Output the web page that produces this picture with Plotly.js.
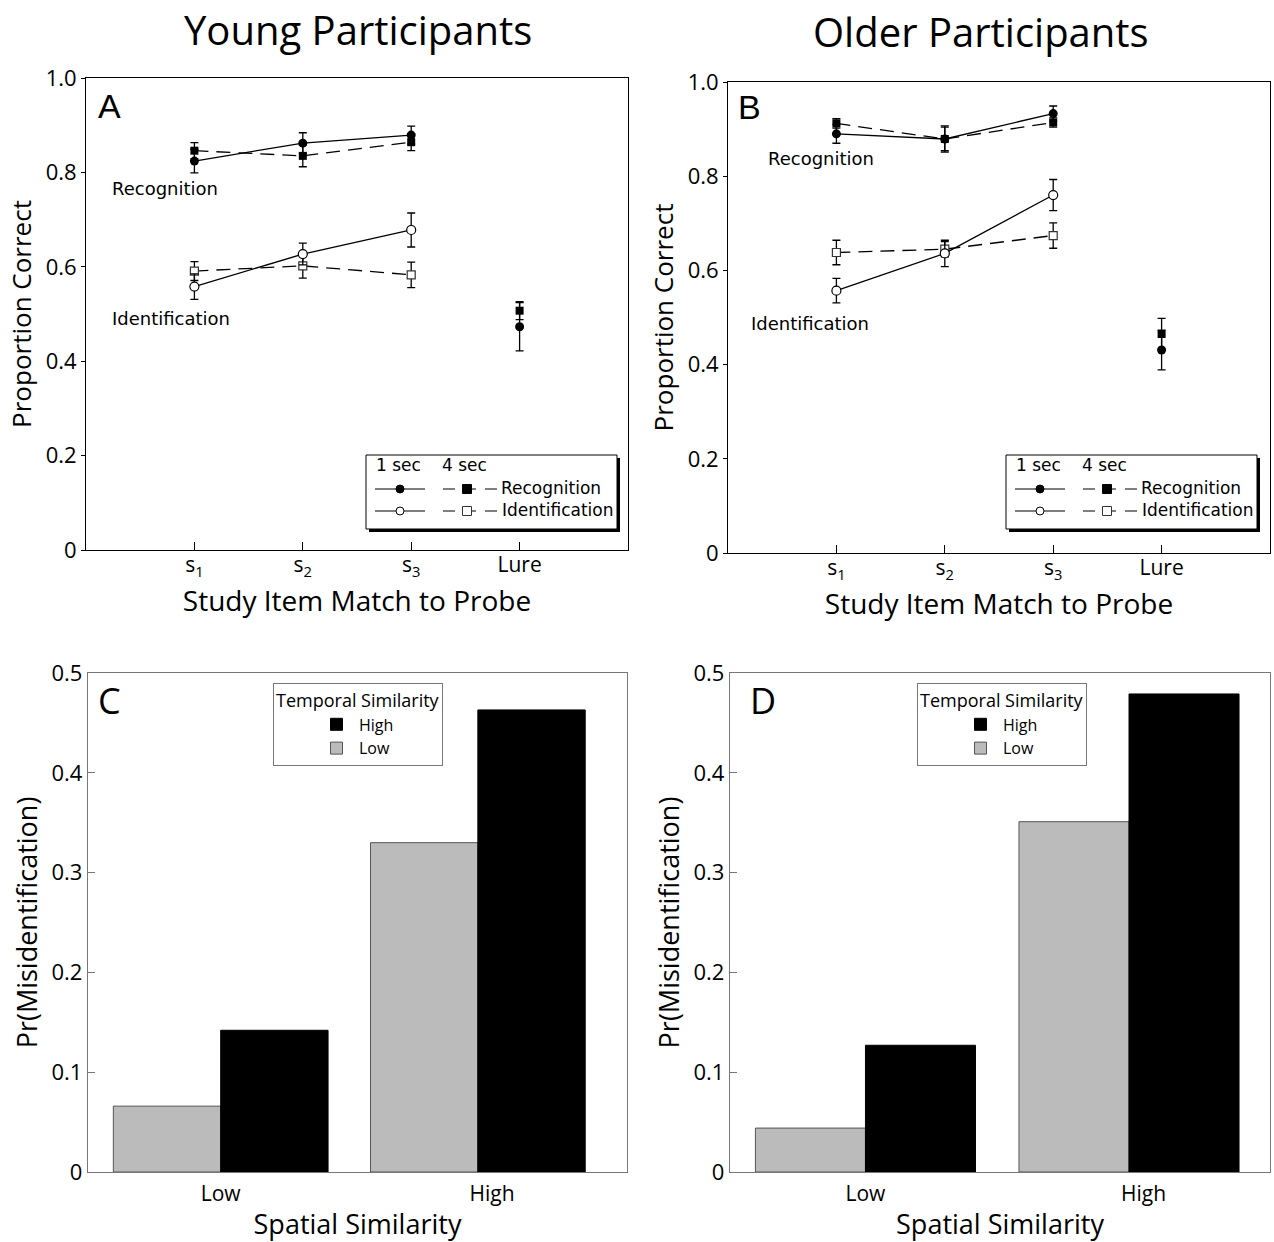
<!DOCTYPE html>
<html><head><meta charset="utf-8">
<script src="https://cdn.plot.ly/plotly-3.0.1.min.js"></script>
<style>body{margin:0;background:#fff}#chart{width:1274px;height:1242px}</style>
</head><body><div id="chart"></div>
<script>
// ---------- DATA ----------
const probeCategories = ['s1', 's2', 's3', 'Lure'];
const probeTickLabels = ['s<sub>1</sub>', 's<sub>2</sub>', 's<sub>3</sub>', 'Lure'];
const matchCategories = ['s1', 's2', 's3'];
const lureCategories = ['Lure'];
const yTickVals = [0, 0.2, 0.4, 0.6, 0.8, 1.0];
const yTickText = ['0', '0.2', '0.4', '0.6', '0.8', '1.0'];

// Young participants (panel A)
const youngRec1s = [0.824, 0.862, 0.879];
const youngRec1sErr = [0.025, 0.022, 0.019];
const youngRec4s = [0.846, 0.835, 0.864];
const youngRec4sErr = [0.017, 0.023, 0.018];
const youngId1s = [0.558, 0.627, 0.678];
const youngId1sErr = [0.027, 0.023, 0.036];
const youngId4s = [0.591, 0.602, 0.583];
const youngId4sErr = [0.020, 0.026, 0.027];
const youngLure1s = [0.473];
const youngLure1sErr = [0.051];
const youngLure4s = [0.507];
const youngLure4sErr = [0.019];

// Older participants (panel B)
const olderRec1s = [0.890, 0.879, 0.933];
const olderRec1sErr = [0.020, 0.025, 0.016];
const olderRec4s = [0.912, 0.879, 0.914];
const olderRec4sErr = [0.010, 0.028, 0.010];
const olderId1s = [0.557, 0.636, 0.760];
const olderId1sErr = [0.026, 0.028, 0.033];
const olderId4s = [0.638, 0.645, 0.674];
const olderId4sErr = [0.026, 0.016, 0.027];
const olderLure1s = [0.431];
const olderLure1sErr = [0.042];
const olderLure4s = [0.465];
const olderLure4sErr = [0.033];

// Misidentification (panels C, D)
const spatialCategories = ['Low', 'High'];
const barTickVals = [0, 0.1, 0.2, 0.3, 0.4, 0.5];
const barTickText = ['0', '0.1', '0.2', '0.3', '0.4', '0.5'];
const youngLowTemporal = [0.066, 0.330];
const youngHighTemporal = [0.142, 0.463];
const olderLowTemporal = [0.044, 0.351];
const olderHighTemporal = [0.127, 0.479];

// ---------- HELPERS ----------
const W = 1274, H = 1242;
const px = v => v / W;
const py = v => 1 - v / H;
const OPT = 'Open Sans, sans-serif';
const HEL = 'DejaVu Sans, sans-serif';
const DASH = '14px,8px';

function err(arr) {
  return {type: 'data', array: arr, visible: true, color: '#000', thickness: 1.3, width: 4};
}
function lineTraces(xa, ya, rec1, rec1e, rec4, rec4e, id1, id1e, id4, id4e, l1, l1e, l4, l4e) {
  const base = {xaxis: xa, yaxis: ya, type: 'scatter', showlegend: false, hoverinfo: 'y'};
  return [
    Object.assign({}, base, {x: matchCategories, y: id4, mode: 'lines+markers', error_y: err(id4e),
      line: {color: '#000', width: 1.3, dash: DASH},
      marker: {symbol: 'square', size: 8, color: '#fff', line: {color: '#333', width: 1.2}}}),
    Object.assign({}, base, {x: matchCategories, y: id1, mode: 'lines+markers', error_y: err(id1e),
      line: {color: '#000', width: 1.3},
      marker: {symbol: 'circle', size: 9, color: '#fff', line: {color: '#000', width: 1.2}}}),
    Object.assign({}, base, {x: matchCategories, y: rec4, mode: 'lines+markers', error_y: err(rec4e),
      line: {color: '#000', width: 1.3, dash: DASH},
      marker: {symbol: 'square', size: 8, color: '#000'}}),
    Object.assign({}, base, {x: matchCategories, y: rec1, mode: 'lines+markers', error_y: err(rec1e),
      line: {color: '#000', width: 1.3},
      marker: {symbol: 'circle', size: 9, color: '#000'}}),
    Object.assign({}, base, {x: lureCategories, y: l4, mode: 'markers', error_y: err(l4e),
      marker: {symbol: 'square', size: 8, color: '#000'}}),
    Object.assign({}, base, {x: lureCategories, y: l1, mode: 'markers', error_y: err(l1e),
      marker: {symbol: 'circle', size: 9, color: '#000'}})
  ];
}
function barTraces(xa, ya, low, high, legendId) {
  const xs = spatialCategories.map((c, i) => i);
  return [
    {type: 'bar', xaxis: xa, yaxis: ya, x: xs, y: low, name: 'Low', legend: legendId,
      marker: {color: '#bbbbbb', line: {color: '#555', width: 1}}, hovertext: spatialCategories},
    {type: 'bar', xaxis: xa, yaxis: ya, x: xs, y: high, name: 'High', legend: legendId,
      marker: {color: '#000000', line: {color: '#000', width: 1}}, hovertext: spatialCategories}
  ];
}

const data = [].concat(
  lineTraces('x', 'y', youngRec1s, youngRec1sErr, youngRec4s, youngRec4sErr, youngId1s, youngId1sErr,
             youngId4s, youngId4sErr, youngLure1s, youngLure1sErr, youngLure4s, youngLure4sErr),
  lineTraces('x2', 'y2', olderRec1s, olderRec1sErr, olderRec4s, olderRec4sErr, olderId1s, olderId1sErr,
             olderId4s, olderId4sErr, olderLure1s, olderLure1sErr, olderLure4s, olderLure4sErr),
  barTraces('x3', 'y3', youngLowTemporal, youngHighTemporal, 'legend'),
  barTraces('x4', 'y4', olderLowTemporal, olderHighTemporal, 'legend2')
);

// ---------- AXES ----------
function lineX(x0, x1) {
  return {domain: [px(x0), px(x1)], type: 'category', categoryorder: 'array', categoryarray: probeCategories,
    range: [-1, 4], tickmode: 'array', tickvals: probeCategories, ticktext: probeTickLabels,
    ticks: 'inside', ticklen: 8, tickcolor: '#000', showline: true, linecolor: '#000', linewidth: 1,
    mirror: true, showgrid: false, zeroline: false, fixedrange: true, ticklabelstandoff: -4,
    tickfont: {family: OPT, size: 21, color: '#000'},
    title: {text: 'Study Item Match to Probe', font: {family: OPT, size: 28, color: '#000'}, standoff: 4}};
}
function lineY(y0, y1, anchor) {
  return {domain: [py(y1), py(y0)], anchor: anchor, range: [0, 1], tickmode: 'array', tickvals: yTickVals,
    ticktext: yTickText, ticks: 'outside', ticklen: 4, tickcolor: '#000', showline: true, linecolor: '#000',
    linewidth: 1, mirror: true, showgrid: false, zeroline: false, fixedrange: true,
    tickfont: {family: OPT, size: 22, color: '#000'},
    title: {text: 'Proportion Correct', font: {family: OPT, size: 26, color: '#000'}, standoff: 6}};
}
function barX(x0, x1, range) {
  return {domain: [px(x0), px(x1)], type: 'linear', range: range, tickmode: 'array',
    tickvals: [0, 1.055], ticktext: spatialCategories, ticks: '', showline: true, linecolor: '#777',
    linewidth: 1.2, mirror: true, showgrid: false, zeroline: false, fixedrange: true, ticklabelstandoff: 3,
    tickfont: {family: OPT, size: 21, color: '#000'},
    title: {text: 'Spatial Similarity', font: {family: OPT, size: 27, color: '#000'}, standoff: 8}};
}
function barY(anchor) {
  return {domain: [py(1172), py(673)], anchor: anchor, range: [0, 0.5], tickmode: 'array', tickvals: barTickVals,
    ticktext: barTickText, ticks: 'inside', ticklen: 7, tickcolor: '#777', showline: true, linecolor: '#777',
    linewidth: 1.2, mirror: true, showgrid: false, zeroline: false, fixedrange: true,
    tickfont: {family: OPT, size: 22, color: '#000'},
    title: {text: 'Pr(Misidentification)', font: {family: OPT, size: 27, color: '#000'}, standoff: 6}};
}

// ---------- LINE-PANEL LEGENDS (decoration) ----------
const shapes = [];
const annotations = [];
function addLineLegend(ox) {
  const L = 366 + ox, R = 617 + ox, T = 455, B = 529;
  shapes.push({type: 'rect', xref: 'paper', yref: 'paper', x0: px(L + 3), x1: px(R + 3), y0: py(B + 3), y1: py(T + 3),
    fillcolor: '#000', line: {width: 0}, layer: 'above'});
  shapes.push({type: 'rect', xref: 'paper', yref: 'paper', x0: px(L), x1: px(R), y0: py(B), y1: py(T),
    fillcolor: '#fff', line: {color: '#000', width: 1}, layer: 'above'});
  const rows = [489, 511];
  rows.forEach((ry, i) => {
    shapes.push({type: 'line', xref: 'paper', yref: 'paper', x0: px(375 + ox), x1: px(425 + ox), y0: py(ry), y1: py(ry),
      line: {color: '#000', width: 1.2}, layer: 'above'});
    shapes.push({type: 'line', xref: 'paper', yref: 'paper', x0: px(443 + ox), x1: px(497 + ox), y0: py(ry), y1: py(ry),
      line: {color: '#000', width: 1.2, dash: '12px,9px'}, layer: 'above'});
    const filled = i === 0;
    shapes.push({type: 'circle', xref: 'paper', yref: 'paper', xsizemode: 'pixel', ysizemode: 'pixel',
      xanchor: px(400 + ox), yanchor: py(ry), x0: -4, x1: 4, y0: -4, y1: 4,
      fillcolor: filled ? '#000' : '#fff', line: {color: '#000', width: 1}, layer: 'above'});
    shapes.push({type: 'rect', xref: 'paper', yref: 'paper', xsizemode: 'pixel', ysizemode: 'pixel',
      xanchor: px(467 + ox), yanchor: py(ry), x0: -4.5, x1: 4.5, y0: -4.5, y1: 4.5,
      fillcolor: filled ? '#000' : '#fff', line: {color: filled ? '#000' : '#333', width: 1}, layer: 'above'});
  });
  const t = (text, x, y) => annotations.push({text: text, xref: 'paper', yref: 'paper', x: px(x), y: py(y),
    xanchor: 'left', yanchor: 'middle', showarrow: false, font: {family: HEL, size: 17, color: '#000'}});
  t('1 sec', 374 + ox, 465);
  t('4 sec', 440 + ox, 465);
  t('Recognition', 499 + ox, 488);
  t('Identification', 500 + ox, 510);
}
addLineLegend(0);
addLineLegend(640);

function label(text, x, y, size, family, anchor) {
  annotations.push({text: text, xref: 'paper', yref: 'paper', x: px(x), y: py(y), xanchor: anchor || 'center',
    yanchor: 'middle', showarrow: false, font: {family: family, size: size, color: '#000'}});
}
label('Young Participants', 358, 30, 40, OPT);
label('Older Participants', 981, 31, 40, OPT);
label('A', 96, 106, 34, 'Liberation Sans, Arial, sans-serif', 'left');
label('B', 736, 107, 34, 'Liberation Sans, Arial, sans-serif', 'left');
label('C', 96, 701, 36, OPT, 'left');
label('D', 748, 701, 36, OPT, 'left');
label('Recognition', 110, 188, 18, HEL, 'left');
label('Identification', 110, 318, 18, HEL, 'left');
label('Recognition', 766, 158, 18, HEL, 'left');
label('Identification', 749, 323, 18, HEL, 'left');

function barLegend(xLeft) {
  return {x: px(xLeft), y: py(683), xanchor: 'left', yanchor: 'top', bgcolor: '#fff', bordercolor: '#777',
    borderwidth: 1, traceorder: 'reversed', tracegroupgap: 0, indentation: 40, itemwidth: 35,
    font: {family: OPT, size: 16, color: '#000'},
    title: {text: 'Temporal Similarity', side: 'top', font: {family: OPT, size: 18, color: '#000'}}};
}

const layout = {
  width: W, height: H, margin: {l: 0, r: 0, t: 0, b: 0}, paper_bgcolor: '#fff', plot_bgcolor: '#fff',
  showlegend: true, barmode: 'group', bargap: 0.165, bargroupgap: 0,
  xaxis: lineX(86, 628), yaxis: lineY(78, 550, 'x'),
  xaxis2: lineX(728, 1270), yaxis2: lineY(82, 553, 'x2'),
  xaxis3: barX(88, 627, [-0.516, 1.58]), yaxis3: barY('x3'),
  xaxis4: barX(730, 1270, [-0.514, 1.535]), yaxis4: barY('x4'),
  legend: barLegend(273), legend2: barLegend(917),
  shapes: shapes, annotations: annotations
};
layout.xaxis.anchor = 'y'; layout.xaxis2.anchor = 'y2'; layout.xaxis3.anchor = 'y3'; layout.xaxis4.anchor = 'y4';

Plotly.newPlot('chart', data, layout, {displayModeBar: false, staticPlot: true});
</script>
</body></html>
